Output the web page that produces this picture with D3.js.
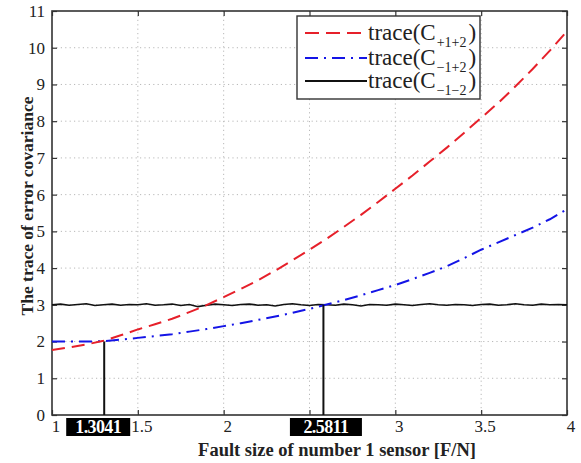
<!DOCTYPE html>
<html>
<head>
<meta charset="utf-8">
<script src="https://cdn.jsdelivr.net/npm/d3@7"></script>
<style>
  body { margin: 0; background: #fff; }
  svg { display: block; }
  text { font-family: "Liberation Serif", "Times New Roman", serif; }
</style>
</head>
<body>
<svg id="chart" width="581" height="463"></svg>
<script>
// ---------- data ----------
const xCurve = [1.0,1.1,1.2,1.3,1.4,1.5,1.6,1.7,1.8,1.9,2.0,2.1,2.2,2.3,2.4,2.5,2.6,2.7,2.8,2.9,3.0,3.1,3.2,3.3,3.4,3.5,3.6,3.7,3.8,3.9,4.0];
const tracePlus12 = [1.77,1.84,1.92,2.02,2.17,2.33,2.47,2.62,2.80,2.99,3.21,3.43,3.67,3.93,4.21,4.50,4.80,5.12,5.45,5.80,6.16,6.52,6.90,7.28,7.68,8.09,8.50,8.95,9.42,9.92,10.45];
const traceMinus1Plus2 = [2.00,2.00,2.00,2.01,2.05,2.10,2.15,2.20,2.27,2.34,2.42,2.50,2.59,2.68,2.78,2.89,3.01,3.13,3.26,3.40,3.54,3.70,3.87,4.05,4.27,4.50,4.70,4.90,5.10,5.33,5.60];
const xFlat = [1.00,1.05,1.10,1.15,1.20,1.25,1.30,1.35,1.40,1.45,1.50,1.55,1.60,1.65,1.70,1.75,1.80,1.85,1.90,1.95,2.00,2.05,2.10,2.15,2.20,2.25,2.30,2.35,2.40,2.45,2.50,2.55,2.60,2.65,2.70,2.75,2.80,2.85,2.90,2.95,3.00,3.05,3.10,3.15,3.20,3.25,3.30,3.35,3.40,3.45,3.50,3.55,3.60,3.65,3.70,3.75,3.80,3.85,3.90,3.95,4.00];
const traceMinus12 = [3.00,3.02,2.99,3.01,3.03,2.98,3.00,3.02,2.99,3.01,
                      3.00,3.03,2.99,3.00,3.02,2.98,3.01,2.95,2.99,3.02,
                      3.00,2.98,3.01,3.02,2.99,3.00,2.97,3.01,3.03,3.00,
                      2.98,3.01,3.00,2.99,3.02,3.00,2.97,3.01,3.00,2.99,
                      3.02,3.00,2.98,3.01,3.03,3.00,2.99,3.01,3.00,2.98,
                      3.01,3.02,2.99,3.00,3.03,3.00,2.99,3.02,3.00,3.01,3.00];
const xTicks = [1, 1.5, 2, 2.5, 3, 3.5, 4];
const yTicks = [0,1,2,3,4,5,6,7,8,9,10,11];
const markX = [1.3041, 2.5811];
const markY = [2, 3];
const markLabels = ["1.3041", "2.5811"];
const legendSubs = ["+1+2", "\u22121+2", "\u22121\u22122"];

// ---------- layout ----------
const svg = d3.select("#chart");
const W = 581, H = 463;
const m = {left: 52, top: 11, right: 14, bottom: 48};
const pw = W - m.left - m.right, ph = H - m.top - m.bottom;
const x = d3.scaleLinear().domain([1, 4]).range([m.left, m.left + pw]);
const y = d3.scaleLinear().domain([0, 11]).range([m.top + ph, m.top]);

// marker label boxes (computed first so tick labels hidden under them can be skipped)
const boxDx = [-6, 2.5];
const boxW = [64, 72];
const boxes = markX.map((v, i) => {
  const cx = x(v) + boxDx[i];
  return {cx, x0: cx - boxW[i] / 2, x1: cx + boxW[i] / 2, w: boxW[i], label: markLabels[i]};
});
const hiddenTick = d => boxes.some(b => x(d) + 3.5 > b.x0 && x(d) + 3.5 < b.x1);

// grid
const grid = svg.append("g");
grid.selectAll("line.gx").data(xTicks.slice(1, -1)).join("line")
  .attr("x1", d => x(d)).attr("x2", d => x(d))
  .attr("y1", m.top).attr("y2", m.top + ph)
  .attr("stroke", "#b8b8b8").attr("stroke-width", 1).attr("stroke-dasharray", "1.2,3.2");
grid.selectAll("line.gy").data(yTicks.slice(1, -1)).join("line")
  .attr("y1", d => y(d)).attr("y2", d => y(d))
  .attr("x1", m.left).attr("x2", m.left + pw)
  .attr("stroke", "#b8b8b8").attr("stroke-width", 1).attr("stroke-dasharray", "1.2,3.2");

// axes (ticks inward on all four sides)
const axB = svg.append("g").attr("transform", `translate(0,${m.top + ph})`)
  .call(d3.axisBottom(x).tickValues(xTicks).tickSize(-5).tickPadding(5)
    .tickFormat(d => hiddenTick(d) ? "" : d3.format("")(d)));
const axT = svg.append("g").attr("transform", `translate(0,${m.top})`)
  .call(d3.axisTop(x).tickValues(xTicks).tickSize(-5).tickFormat(""));
const axL = svg.append("g").attr("transform", `translate(${m.left},0)`)
  .call(d3.axisLeft(y).tickValues(yTicks).tickSize(-5).tickPadding(7).tickFormat(d3.format("d")));
const axR = svg.append("g").attr("transform", `translate(${m.left + pw},0)`)
  .call(d3.axisRight(y).tickValues(yTicks).tickSize(-5).tickFormat(""));
[axB, axT, axL, axR].forEach(a => {
  a.select(".domain").remove();
  a.selectAll(".tick line").attr("stroke", "#333").attr("stroke-width", 1.2);
  a.selectAll("text").attr("font-size", 17).attr("fill", "#222");
});
axB.selectAll("text").attr("dx", 3.5);

// frame
svg.append("rect").attr("x", m.left).attr("y", m.top).attr("width", pw).attr("height", ph)
  .attr("fill", "none").attr("stroke", "#333").attr("stroke-width", 1.6);

// curves
const lineCurve = d3.line().x((d, i) => x(xCurve[i])).y(d => y(d));
const lineFlat = d3.line().x((d, i) => x(xFlat[i])).y(d => y(d));
svg.append("path").datum(traceMinus12).attr("d", lineFlat)
  .attr("fill", "none").attr("stroke", "#111").attr("stroke-width", 1.6);
svg.append("path").datum(traceMinus1Plus2).attr("d", lineCurve)
  .attr("fill", "none").attr("stroke", "#1414e6").attr("stroke-width", 2)
  .attr("stroke-dasharray", "13,6,2,6");
svg.append("path").datum(tracePlus12).attr("d", lineCurve)
  .attr("fill", "none").attr("stroke", "#e6202a").attr("stroke-width", 2)
  .attr("stroke-dasharray", "13,7");

// markers: vertical lines
svg.selectAll("line.mark").data(markX).join("line")
  .attr("x1", d => x(d)).attr("x2", d => x(d))
  .attr("y1", y(0)).attr("y2", (d, i) => y(markY[i]))
  .attr("stroke", "#111").attr("stroke-width", 2);

// marker labels (black boxes)
boxes.forEach(b => {
  svg.append("rect").attr("x", b.x0).attr("y", 418).attr("width", b.w).attr("height", 18)
    .attr("fill", "#000");
  svg.append("text").attr("x", b.cx).attr("y", 433).attr("text-anchor", "middle")
    .attr("fill", "#fff").attr("font-size", 18).attr("font-weight", "bold")
    .attr("letter-spacing", -0.6)
    .text(b.label);
});

// axis titles
svg.append("text").attr("x", 337).attr("y", 456).attr("text-anchor", "middle")
  .attr("font-size", 18.5).attr("font-weight", "bold").attr("fill", "#222")
  .text("Fault size of number 1 sensor [F/N]");
svg.append("text").attr("transform", "translate(33,206) rotate(-90)").attr("text-anchor", "middle")
  .attr("font-size", 17.5).attr("font-weight", "bold").attr("fill", "#222")
  .text("The trace of error covariance");

// legend
const lg = svg.append("g");
lg.append("rect").attr("x", 297).attr("y", 16).attr("width", 183).attr("height", 83)
  .attr("fill", "#fff").attr("stroke", "#333").attr("stroke-width", 1.4);
const legStyles = [
  {stroke: "#e6202a", dash: "14,7"},
  {stroke: "#1414e6", dash: "13,6,2,6"},
  {stroke: "#111", dash: null}
];
const rowY = [33, 58, 81];
legendSubs.forEach((s, i) => {
  const ly = rowY[i];
  const ln = lg.append("line").attr("x1", 305).attr("x2", 367).attr("y1", ly).attr("y2", ly)
    .attr("stroke", legStyles[i].stroke).attr("stroke-width", 2);
  if (legStyles[i].dash) ln.attr("stroke-dasharray", legStyles[i].dash);
  const t = lg.append("text").attr("x", 368).attr("y", ly + 7).attr("font-size", 23).attr("fill", "#222");
  t.append("tspan").text("trace(C");
  t.append("tspan").attr("font-size", 14).attr("dy", 7).attr("dx", 1).text(s);
  t.append("tspan").attr("dy", -7).attr("dx", 2).text(")");
});
</script>
</body>
</html>
